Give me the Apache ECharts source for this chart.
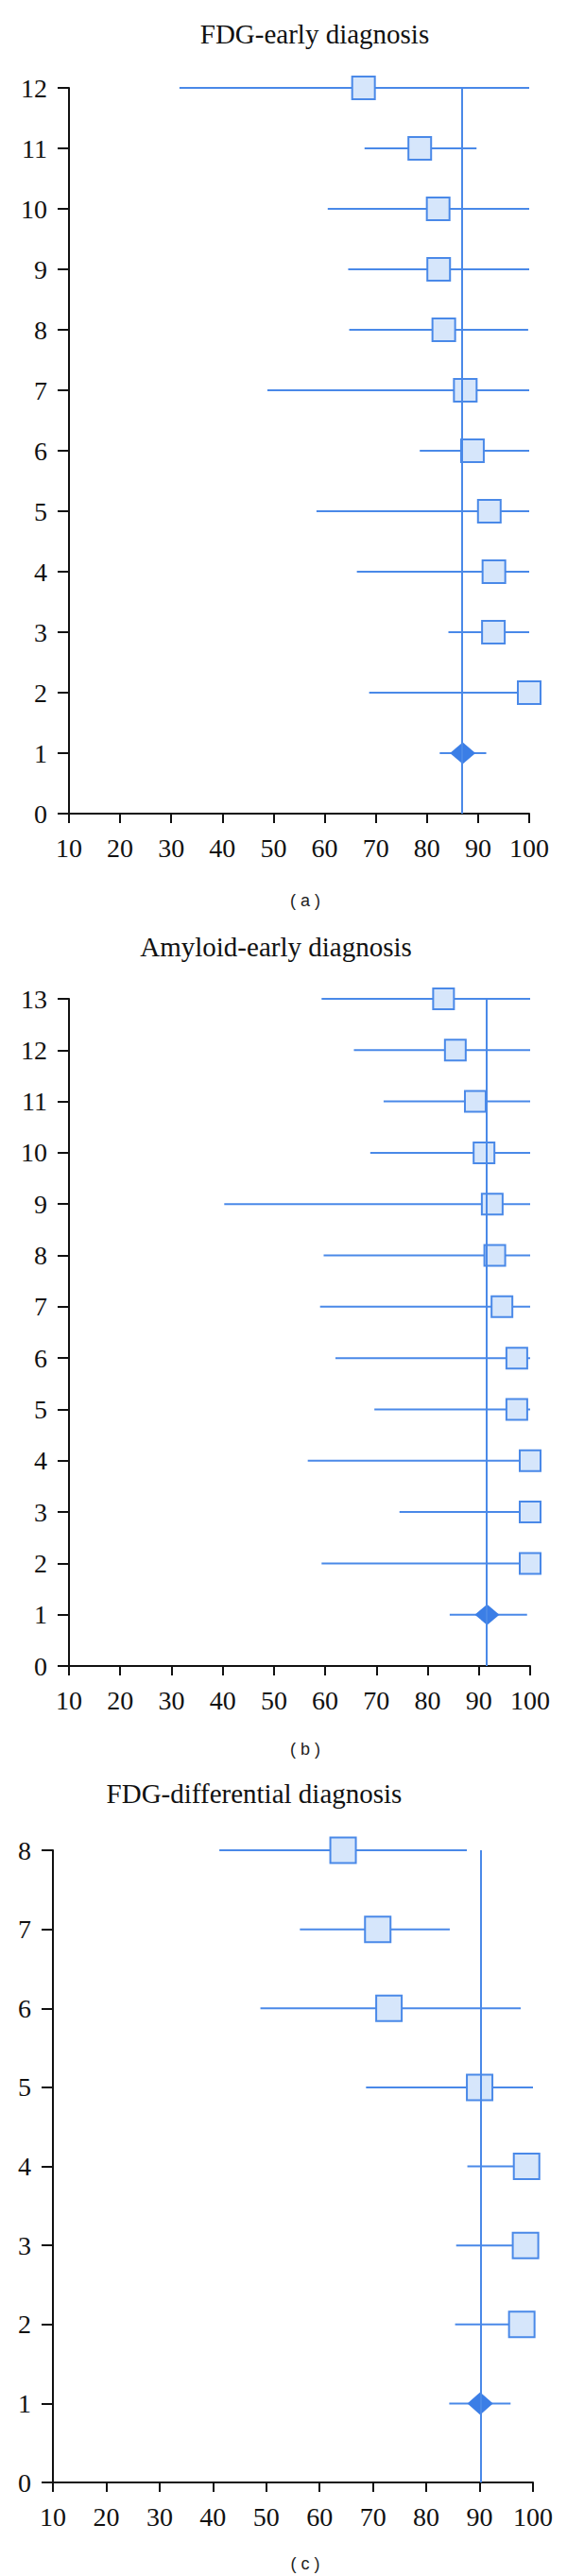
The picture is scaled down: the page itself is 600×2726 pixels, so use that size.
<!DOCTYPE html>
<html><head><meta charset="utf-8">
<script src="https://cdn.jsdelivr.net/npm/echarts@6/dist/echarts.min.js"></script>
<style>html,body{margin:0;padding:0;background:#fff}#c{width:600px;height:2726px}</style>
</head><body><div id="c"></div>
<script>
// ---- data ----
const xTicks = [10, 20, 30, 40, 50, 60, 70, 80, 90, 100];
const titles = ['FDG-early diagnosis', 'Amyloid-early diagnosis', 'FDG-differential diagnosis'];
const panelLabels = ['( a )', '( b )', '( c )'];

// Panel a: FDG-early diagnosis (rows 12..2 are studies, row 1 pooled)
const aRows = [12, 11, 10, 9, 8, 7, 6, 5, 4, 3, 2];
const aMean = [67.6, 78.6, 82.2, 82.3, 83.3, 87.5, 88.9, 92.2, 93.1, 93.0, 100];
const aLow  = [31.6, 67.8, 60.6, 64.6, 64.8, 48.8, 78.6, 58.4, 66.3, 84.2, 68.7];
const aHigh = [100, 89.7, 100, 100, 99.8, 100, 100, 100, 100, 100, 100];
const aPooled = [87.0, 82.5, 91.6]; // mean, low, high
const aRef = 86.8;
const aMaxY = 12;

// Panel b: Amyloid-early diagnosis
const bRows = [13, 12, 11, 10, 9, 8, 7, 6, 5, 4, 3, 2];
const bMean = [83.1, 85.4, 89.3, 91.0, 92.6, 93.1, 94.5, 97.4, 97.4, 100, 100, 100];
const bLow  = [59.3, 65.6, 71.4, 68.8, 40.3, 59.7, 59.0, 62.0, 69.6, 56.6, 74.5, 59.3];
const bHigh = [100, 100, 100, 100, 100, 100, 100, 100, 100, 100, 100, 100];
const bPooled = [91.6, 84.3, 99.4];
const bRef = 91.5;
const bMaxY = 13;

// Panel c: FDG-differential diagnosis
const cRows = [8, 7, 6, 5, 4, 3, 2];
const cMean = [64.4, 70.9, 73.0, 90.0, 98.8, 98.6, 97.9];
const cLow  = [41.2, 56.3, 48.9, 68.7, 87.7, 85.6, 85.4];
const cHigh = [87.6, 84.4, 97.7, 100, 100, 100, 100];
const cPooled = [90.1, 84.3, 95.8];
const cRef = 90.2;
const cMaxY = 8;
const pooledRow = 1;

// ---- styling / layout ----
const LINE = '#4a89e8';
const FILL = '#d6e6fb';
const DIAM = '#3b7ee6';
const SERIF = '"Liberation Serif", "DejaVu Serif", serif';
const SANS = '"Liberation Sans", Arial, sans-serif';

const panels = [
  {rows: aRows, mean: aMean, low: aLow, high: aHigh, pooled: aPooled, ref: aRef, maxY: aMaxY,
   grid: {left: 73, top: 93, width: 487, height: 768}, sq: 24, dia: [27, 23],
   title: [333, 36], label: [323, 953]},
  {rows: bRows, mean: bMean, low: bLow, high: bHigh, pooled: bPooled, ref: bRef, maxY: bMaxY,
   grid: {left: 73, top: 1057, width: 488, height: 706}, sq: 22, dia: [26, 22],
   title: [292, 1002], label: [323, 1851]},
  {rows: cRows, mean: cMean, low: cLow, high: cHigh, pooled: cPooled, ref: cRef, maxY: cMaxY,
   grid: {left: 56, top: 1958, width: 508, height: 669}, sq: 27, dia: [27, 24],
   title: [269, 1898], label: [323, 2713]}
];

const option = {
  animation: false,
  backgroundColor: '#fff',
  grid: [], xAxis: [], yAxis: [], series: [], graphic: []
};

panels.forEach((p, i) => {
  option.grid.push(Object.assign({containLabel: false}, p.grid));
  option.xAxis.push({
    type: 'value', gridIndex: i, min: xTicks[0], max: xTicks[xTicks.length - 1], interval: 10,
    axisLine: {show: true, onZero: false, lineStyle: {color: '#111', width: 2}},
    axisTick: {show: true, length: 10, lineStyle: {color: '#111', width: 2}},
    axisLabel: {fontFamily: SERIF, fontSize: 28, color: '#111', margin: 22,
      formatter: v => xTicks.includes(v) ? String(v) : ''},
    splitLine: {show: false}
  });
  option.yAxis.push({
    type: 'value', gridIndex: i, min: 0, max: p.maxY, interval: 1,
    axisLine: {show: true, onZero: false, lineStyle: {color: '#111', width: 2}},
    axisTick: {show: true, length: 12, lineStyle: {color: '#111', width: 2}},
    axisLabel: {fontFamily: SERIF, fontSize: 28, color: '#111', margin: 23},
    splitLine: {show: false}
  });
  const barData = p.rows.map((r, k) => [p.low[k], p.high[k], r]);
  barData.push([p.pooled[1], p.pooled[2], pooledRow]);
  option.series.push({
    type: 'custom', xAxisIndex: i, yAxisIndex: i, z: 2,
    data: barData,
    encode: {x: [0, 1], y: 2},
    renderItem: (params, api) => {
      const p1 = api.coord([api.value(0), api.value(2)]);
      const p2 = api.coord([api.value(1), api.value(2)]);
      return {type: 'line', shape: {x1: p1[0], y1: p1[1], x2: p2[0], y2: p2[1]},
        style: {stroke: LINE, lineWidth: 2}};
    },
    markLine: {
      silent: true, symbol: 'none', label: {show: false},
      lineStyle: {color: LINE, width: 2, type: 'solid'},
      data: [{xAxis: p.ref}]
    }
  });
  option.series.push({
    type: 'scatter', xAxisIndex: i, yAxisIndex: i, z: 4,
    symbol: 'rect', symbolSize: p.sq, clip: false,
    itemStyle: {color: FILL, borderColor: LINE, borderWidth: 2, opacity: 1},
    data: p.rows.map((r, k) => [p.mean[k], r])
  });
  option.series.push({
    type: 'scatter', xAxisIndex: i, yAxisIndex: i, z: 4,
    symbol: 'diamond', symbolSize: p.dia, clip: false,
    itemStyle: {color: DIAM, opacity: 1},
    data: [[p.pooled[0], pooledRow]]
  });
  option.graphic.push({
    type: 'text', x: p.title[0], y: p.title[1],
    style: {text: titles[i], fill: '#111', font: '29px ' + SERIF,
      textAlign: 'center', textVerticalAlign: 'middle', align: 'center', verticalAlign: 'middle'}
  });
  option.graphic.push({
    type: 'text', x: p.label[0], y: p.label[1],
    style: {text: panelLabels[i], fill: '#222', font: '18px ' + SANS,
      textAlign: 'center', textVerticalAlign: 'middle', align: 'center', verticalAlign: 'middle'}
  });
});

const chart = echarts.init(document.getElementById('c'), null, {renderer: 'svg'});
chart.setOption(option);
</script>
</body></html>
